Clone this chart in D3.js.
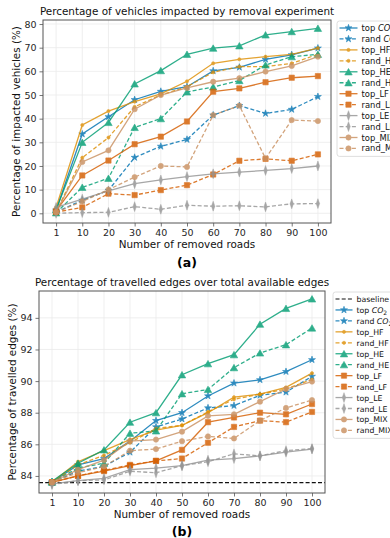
<!DOCTYPE html>
<html>
<head>
<meta charset="utf-8">
<script src="https://cdn.jsdelivr.net/npm/d3@7"></script>
<style>
  body { margin: 0; background: #fff; }
  svg { display: block; font-family: "DejaVu Sans", sans-serif; }
</style>
</head>
<body>
<svg id="chart" width="390" height="538"></svg>
<script>
// Data
const ROADS = ['1', '10', '20', '30', '40', '50', '60', '70', '80', '90', '100'];

// (a) percentage of impacted vehicles
const A_TOP_CO2 = [1.3, 33.5, 40.8, 48.0, 51.5, 53.5, 60.2, 61.7, 65.1, 67.0, 69.8];
const A_RAND_CO2 = [0.5, 5.5, 9.7, 23.6, 28.3, 31.2, 41.5, 45.5, 42.2, 43.9, 49.3];
const A_TOP_HF = [2.5, 37.3, 43.2, 47.2, 50.5, 55.8, 63.4, 65.1, 66.2, 67.2, 69.8];
const A_RAND_HF = [0.5, 23.5, 32.0, 45.0, 50.0, 53.5, 59.6, 62.0, 62.0, 63.4, 67.2];
const A_TOP_HE = [1.5, 30.0, 38.4, 54.7, 60.3, 67.2, 69.8, 70.8, 75.4, 76.8, 78.2];
const A_RAND_HE = [0.2, 11.0, 14.8, 36.3, 40.0, 51.3, 53.4, 56.1, 62.7, 66.2, 67.2];
const A_TOP_LF = [1.0, 16.0, 22.3, 29.2, 32.4, 38.8, 51.4, 52.8, 55.4, 57.3, 58.0];
const A_RAND_LF = [0.5, 2.5, 8.3, 7.7, 9.8, 11.9, 16.4, 22.2, 23.0, 22.2, 24.9];
const A_TOP_LE = [2.5, 6.0, 9.5, 12.5, 14.1, 15.5, 16.7, 17.4, 18.1, 18.9, 20.0];
const A_RAND_LE = [0.0, 0.3, 0.4, 2.8, 1.7, 3.4, 3.0, 3.2, 2.7, 4.0, 4.1];
const A_TOP_MIX = [0.5, 21.7, 26.6, 44.0, 50.0, 53.0, 55.6, 57.1, 59.9, 62.3, 66.2];
const A_RAND_MIX = [0.5, 5.0, 10.0, 15.3, 20.0, 19.6, 41.5, 45.5, 23.2, 39.4, 39.0];

// (b) percentage of travelled edges
const B_BASELINE = 83.58;
const B_TOP_CO2 = [83.6, 84.7, 85.1, 86.2, 87.5, 88.0, 89.06, 89.87, 90.08, 90.6, 91.35];
const B_RAND_CO2 = [83.6, 84.3, 84.6, 85.5, 87.1, 87.6, 88.3, 88.45, 89.1, 89.3, 90.3];
const B_TOP_HF = [83.6, 84.9, 85.6, 86.3, 86.9, 87.2, 88.0, 88.98, 89.17, 89.6, 90.5];
const B_RAND_HF = [83.6, 84.7, 85.3, 86.1, 87.0, 87.2, 88.05, 88.85, 89.17, 89.5, 90.1];
const B_TOP_HE = [83.66, 84.8, 85.65, 87.4, 88.0, 90.4, 91.1, 91.67, 93.6, 94.6, 95.2];
const B_RAND_HE = [83.6, 84.5, 84.8, 86.7, 86.85, 89.2, 89.47, 90.85, 91.78, 92.3, 93.36];
const B_TOP_LF = [83.6, 84.0, 84.3, 84.65, 84.95, 85.65, 87.4, 87.7, 88.0, 87.9, 88.55];
const B_RAND_LF = [83.6, 84.0, 84.35, 84.7, 84.95, 85.1, 86.1, 87.1, 87.5, 87.4, 88.05];
const B_TOP_LE = [83.5, 83.7, 83.85, 84.4, 84.5, 84.65, 85.0, 85.1, 85.27, 85.5, 85.7];
const B_RAND_LE = [83.45, 83.7, 83.75, 84.3, 84.2, 84.65, 84.9, 85.4, 85.27, 85.6, 85.73];
const B_TOP_MIX = [83.6, 84.4, 85.0, 86.2, 86.3, 86.8, 87.8, 87.9, 88.7, 89.5, 89.97];
const B_RAND_MIX = [83.6, 84.2, 84.6, 85.6, 85.7, 86.2, 86.5, 86.37, 87.5, 88.3, 88.8];

const A_TICKS = [0, 10, 20, 30, 40, 50, 60, 70, 80];
const B_TICKS = [84, 86, 88, 90, 92, 94];

// Styles per strategy
const STYLE = {
  CO2: { color: '#0173b2', marker: 'star' },
  HF: { color: '#de8f05', marker: 'dot' },
  HE: { color: '#029e73', marker: 'triangle' },
  LF: { color: '#d55e00', marker: 'square' },
  LE: { color: '#949494', marker: 'thin_diamond' },
  MIX: { color: '#ca9161', marker: 'circle' },
};

const PANEL_A = [
  ['CO2', false, A_TOP_CO2], ['CO2', true, A_RAND_CO2],
  ['HF', false, A_TOP_HF], ['HF', true, A_RAND_HF],
  ['HE', false, A_TOP_HE], ['HE', true, A_RAND_HE],
  ['LF', false, A_TOP_LF], ['LF', true, A_RAND_LF],
  ['LE', false, A_TOP_LE], ['LE', true, A_RAND_LE],
  ['MIX', false, A_TOP_MIX], ['MIX', true, A_RAND_MIX],
];
const PANEL_B = [
  ['CO2', false, B_TOP_CO2], ['CO2', true, B_RAND_CO2],
  ['HF', false, B_TOP_HF], ['HF', true, B_RAND_HF],
  ['HE', false, B_TOP_HE], ['HE', true, B_RAND_HE],
  ['LF', false, B_TOP_LF], ['LF', true, B_RAND_LF],
  ['LE', false, B_TOP_LE], ['LE', true, B_RAND_LE],
  ['MIX', false, B_TOP_MIX], ['MIX', true, B_RAND_MIX],
];

const toSeries = (rows) => rows.map(([key, dashed, values]) => ({ key, dashed, values }));

function markerPath(type) {
  const sym = {
    star: [d3.symbolStar, 15],
    dot: [d3.symbolCircle, 8],
    triangle: [d3.symbolTriangle, 24],
    square: [d3.symbolSquare, 28],
    thin_diamond: [d3.symbolDiamond, 28],
    circle: [d3.symbolCircle, 22],
  }[type];
  return d3.symbol(sym[0], sym[1])();
}

function drawMarker(g, type, color, x, y) {
  const sx = type === 'thin_diamond' ? 0.6 : 1;
  const dy = type === 'triangle' ? 1 : 0;
  g.append('path')
    .attr('d', markerPath(type))
    .attr('transform', `translate(${x},${y + dy}) scale(${sx},1)`)
    .attr('fill', color)
    .attr('stroke', color)
    .attr('stroke-width', 0.6);
}

function labelFor(s) {
  const prefix = s.dashed ? 'rand' : 'top';
  return s.key === 'CO2' ? prefix + ' ' : prefix + '_' + s.key;
}

const svg = d3.select('#chart');

function drawPanel(cfg) {
  const { left, top, right, bottom } = cfg;
  const g = svg.append('g');

  const x = d3.scalePoint(ROADS, [left, right]).padding(0.5);
  const y = d3.scaleLinear(cfg.yDomain, [bottom, top]);

  // grid
  g.append('g')
    .selectAll('line')
    .data(ROADS)
    .join('line')
    .attr('x1', (d) => x(d))
    .attr('x2', (d) => x(d))
    .attr('y1', top)
    .attr('y2', bottom)
    .attr('stroke', '#ebebeb')
    .attr('stroke-width', 0.8);
  g.append('g')
    .selectAll('line')
    .data(cfg.yTicks)
    .join('line')
    .attr('x1', left)
    .attr('x2', right)
    .attr('y1', (d) => y(d))
    .attr('y2', (d) => y(d))
    .attr('stroke', '#ebebeb')
    .attr('stroke-width', 0.8);

  // axes
  const xAxis = g
    .append('g')
    .attr('transform', `translate(0,${bottom})`)
    .call(d3.axisBottom(x).tickSize(3.5).tickPadding(3));
  const yAxis = g
    .append('g')
    .attr('transform', `translate(${left},0)`)
    .call(d3.axisLeft(y).tickValues(cfg.yTicks).tickSize(3.5).tickPadding(3));
  for (const ax of [xAxis, yAxis]) {
    ax.select('.domain').remove();
    ax.selectAll('.tick line').attr('stroke', '#555').attr('stroke-width', 0.8);
    ax.selectAll('.tick text')
      .attr('fill', '#262626')
      .style('font-size', '9.5px')
      .style('font-family', '"DejaVu Sans", sans-serif');
  }

  // baseline
  if (cfg.baseline !== undefined) {
    g.append('line')
      .attr('x1', left)
      .attr('x2', right)
      .attr('y1', y(cfg.baseline))
      .attr('y2', y(cfg.baseline))
      .attr('stroke', '#111')
      .attr('stroke-width', 1.2)
      .attr('stroke-dasharray', '4,2.2');
  }

  // series
  const line = d3
    .line()
    .x((d, i) => x(ROADS[i]))
    .y((d) => y(d));
  cfg.series.forEach((s) => {
    const st = STYLE[s.key];
    const sg = g.append('g').attr('opacity', 0.82);
    sg.append('path')
      .attr('d', line(s.values))
      .attr('fill', 'none')
      .attr('stroke', st.color)
      .attr('stroke-width', 1.3)
      .attr('stroke-dasharray', s.dashed ? '4,2.2' : null);
    s.values.forEach((v, i) => drawMarker(sg, st.marker, st.color, x(ROADS[i]), y(v)));
  });

  // frame
  g.append('rect')
    .attr('x', left)
    .attr('y', top)
    .attr('width', right - left)
    .attr('height', bottom - top)
    .attr('fill', 'none')
    .attr('stroke', '#555')
    .attr('stroke-width', 1);

  // title & labels
  g.append('text')
    .attr('x', (left + right) / 2)
    .attr('y', top - 5)
    .attr('text-anchor', 'middle')
    .attr('fill', '#111')
    .style('font-size', '10.4px')
    .text(cfg.title);
  g.append('text')
    .attr('x', (left + right) / 2)
    .attr('y', bottom + 25)
    .attr('text-anchor', 'middle')
    .attr('fill', '#111')
    .style('font-size', '10.4px')
    .text('Number of removed roads');
  g.append('text')
    .attr('transform', `translate(${cfg.yLabelX},${(top + bottom) / 2}) rotate(-90)`)
    .attr('text-anchor', 'middle')
    .attr('fill', '#111')
    .style('font-size', '10.4px')
    .text(cfg.yLabel);
  g.append('text')
    .attr('x', (left + right) / 2)
    .attr('y', cfg.tagY)
    .attr('text-anchor', 'middle')
    .attr('fill', '#000')
    .style('font-size', '12.5px')
    .style('font-weight', 'bold')
    .text(cfg.tag);

  // legend (runs past the right edge, as in the original figure)
  const lg = svg.append('g');
  const entries = [];
  if (cfg.baseline !== undefined) entries.push({ baseline: true });
  cfg.series.forEach((s) => entries.push(s));
  const L = cfg.legend;
  lg.append('rect')
    .attr('x', L.x)
    .attr('y', L.y)
    .attr('width', 70)
    .attr('height', L.pad * 2 + entries.length * L.step - 4)
    .attr('rx', 2.5)
    .attr('fill', '#fff')
    .attr('stroke', '#d6d6d6')
    .attr('stroke-width', 0.8);
  entries.forEach((e, i) => {
    const cy = L.y + L.pad + 3 + i * L.step;
    const x0 = L.x + 2.5;
    const x1 = x0 + L.handle;
    if (e.baseline) {
      lg.append('line')
        .attr('x1', x0).attr('x2', x1).attr('y1', cy).attr('y2', cy)
        .attr('stroke', '#111').attr('stroke-width', 1.2)
        .attr('stroke-dasharray', '4,2.2');
      lg.append('text')
        .attr('x', x1 + 4).attr('y', cy + 3)
        .attr('fill', '#111').style('font-size', L.font)
        .text('baseline');
      return;
    }
    const st = STYLE[e.key];
    const eg = lg.append('g').attr('opacity', 0.82);
    eg.append('line')
      .attr('x1', x0).attr('x2', x1).attr('y1', cy).attr('y2', cy)
      .attr('stroke', st.color).attr('stroke-width', 1.3)
      .attr('stroke-dasharray', e.dashed ? '4,2.2' : null);
    drawMarker(eg, st.marker, st.color, (x0 + x1) / 2, cy);
    const t = lg.append('text')
      .attr('x', x1 + 4).attr('y', cy + 3)
      .attr('fill', '#111').style('font-size', L.font)
      .text(labelFor(e));
    if (e.key === 'CO2') {
      t.append('tspan').style('font-style', 'italic').text('CO');
      t.append('tspan').attr('dy', 2).style('font-size', '6px').text('2');
    }
  });
}

drawPanel({
  left: 43, right: 331, top: 20, bottom: 223,
  yDomain: [-4.1, 81.7],
  yTicks: A_TICKS,
  series: toSeries(PANEL_A),
  title: 'Percentage of vehicles impacted by removal experiment',
  yLabel: 'Percentage of impacted vehicles (%)',
  yLabelX: 20,
  tag: '(a)',
  tagY: 267,
  legend: { x: 337, y: 21, step: 10.95, pad: 4, handle: 18, font: '8.4px' },
});

drawPanel({
  left: 39, right: 325, top: 291, bottom: 493,
  yDomain: [82.92, 95.7],
  yTicks: B_TICKS,
  baseline: B_BASELINE,
  series: toSeries(PANEL_B),
  title: 'Percentage of travelled edges over total available edges',
  yLabel: 'Percentage of travelled edges (%)',
  yLabelX: 16,
  tag: '(b)',
  tagY: 536,
  legend: { x: 333, y: 292, step: 10.95, pad: 4, handle: 17, font: '7.8px' },
});
</script>
</body>
</html>
